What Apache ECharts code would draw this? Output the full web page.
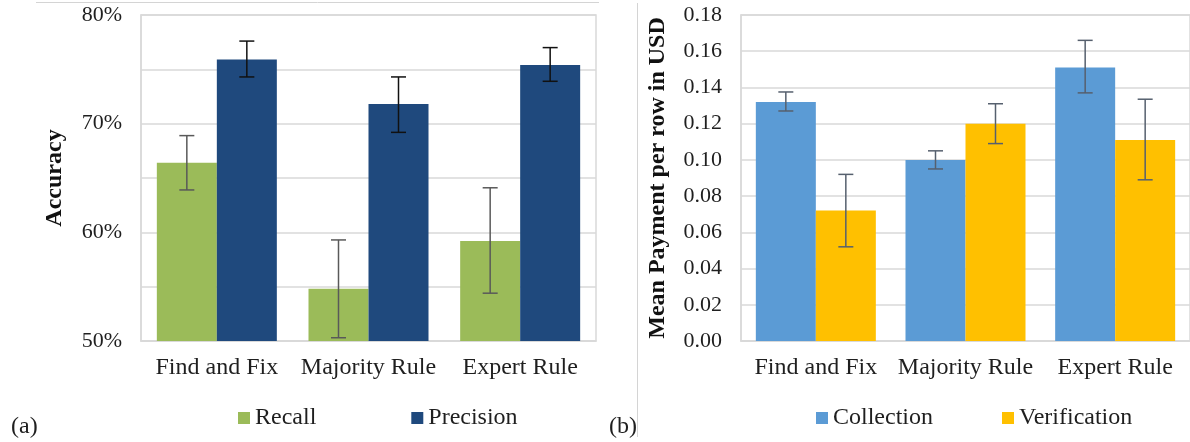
<!DOCTYPE html>
<html>
<head>
<meta charset="utf-8">
<script src="https://cdn.jsdelivr.net/npm/echarts@6/dist/echarts.min.js"></script>
<style>
html,body{margin:0;padding:0;background:#fff;}
#chart{width:1190px;height:442px;}
</style>
</head>
<body>
<div id="chart"></div>
<script>
// ---- data ----
const categories = ['Find and Fix', 'Majority Rule', 'Expert Rule'];

// (a) Accuracy, in percent
const recall        = [66.4, 54.8, 59.2];
const recallLow     = [63.9, 50.3, 54.4];
const recallHigh    = [68.9, 59.3, 64.1];
const precision     = [75.9, 71.8, 75.4];
const precisionLow  = [74.3, 69.2, 73.9];
const precisionHigh = [77.6, 74.3, 77.0];

// (b) Mean payment per row in USD
const collection        = [0.132, 0.100, 0.151];
const collectionLow     = [0.127, 0.095, 0.137];
const collectionHigh    = [0.1375, 0.105, 0.166];
const verification      = [0.072, 0.120, 0.111];
const verificationLow   = [0.052, 0.109, 0.089];
const verificationHigh  = [0.092, 0.131, 0.1335];

const accuracyTicks = {min: 50, max: 80, step: 5};
const paymentTicks  = {min: 0, max: 0.18, step: 0.02};

// ---- styles ----
const FONT = '"Liberation Serif", "Times New Roman", serif';
const TXT = '#1f1f1f';
const GRID = '#D9D9D9';
const BAR_W = 60;

function errData(lo, hi) {
  return categories.map((c, i) => [i, lo[i], hi[i]]);
}
function errSeries(name, lo, hi, side, color, gi) {
  return {
    type: 'custom', name: name, xAxisIndex: gi, yAxisIndex: gi, z: 10,
    silent: true,
    encode: {x: 0, y: [1, 2]},
    data: errData(lo, hi),
    renderItem: function (params, api) {
      const i = api.value(0);
      const p1 = api.coord([i, api.value(1)]);
      const p2 = api.coord([i, api.value(2)]);
      const x = p1[0] + side * BAR_W / 2;
      const cap = 7.5;
      const style = {stroke: color, lineWidth: 1.5, fill: null};
      return {
        type: 'group',
        children: [
          {type: 'line', shape: {x1: x, y1: p1[1], x2: x, y2: p2[1]}, style: style},
          {type: 'line', shape: {x1: x - cap, y1: p1[1], x2: x + cap, y2: p1[1]}, style: style},
          {type: 'line', shape: {x1: x - cap, y1: p2[1], x2: x + cap, y2: p2[1]}, style: style}
        ]
      };
    }
  };
}

const catAxis = (gi) => ({
  type: 'category', gridIndex: gi, data: categories,
  axisLine: {show: true, lineStyle: {color: GRID, width: 1.5}},
  axisTick: {show: false},
  axisLabel: {fontFamily: FONT, fontSize: 24, color: TXT, margin: 15, interval: 0, hideOverlap: false}
});

const chart = echarts.init(document.getElementById('chart'), null, {renderer: 'canvas'});
chart.setOption({
  animation: false,
  backgroundColor: '#fff',
  textStyle: {fontFamily: FONT},
  grid: [
    {left: 141, top: 15, width: 455, height: 326, show: true, borderColor: GRID, borderWidth: 1.5, backgroundColor: 'transparent'},
    {left: 741, top: 15, width: 454, height: 326, show: true, borderColor: GRID, borderWidth: 1.5, backgroundColor: 'transparent'}
  ],
  title: [
    {text: '(a)', left: 6, top: 410, textStyle: {fontFamily: FONT, fontSize: 24, fontWeight: 'normal', color: TXT}},
    {text: '(b)', left: 604, top: 410, textStyle: {fontFamily: FONT, fontSize: 24, fontWeight: 'normal', color: TXT}}
  ],
  legend: [
    {data: ['Recall', 'Precision'], left: 233, top: 401, itemWidth: 12, itemHeight: 12, itemGap: 95, icon: 'rect',
     textStyle: {fontFamily: FONT, fontSize: 24, color: TXT}},
    {data: ['Collection', 'Verification'], left: 811, top: 401, itemWidth: 12, itemHeight: 12, itemGap: 69, icon: 'rect',
     textStyle: {fontFamily: FONT, fontSize: 24, color: TXT}}
  ],
  xAxis: [catAxis(0), catAxis(1)],
  yAxis: [
    {type: 'value', gridIndex: 0, min: accuracyTicks.min, max: accuracyTicks.max, interval: accuracyTicks.step,
     name: 'Accuracy', nameLocation: 'middle', nameRotate: 90, nameGap: 74,
     nameTextStyle: {fontFamily: FONT, fontSize: 24, fontWeight: 'bold', color: '#111'},
     axisLine: {show: true, lineStyle: {color: GRID, width: 1.5}}, axisTick: {show: false},
     splitLine: {lineStyle: {color: GRID, width: 1.5}},
     axisLabel: {fontFamily: FONT, fontSize: 22, color: TXT, margin: 19,
       formatter: v => (Math.round(v) % 10 === 0 ? Math.round(v) + '%' : '')}},
    {type: 'value', gridIndex: 1, min: paymentTicks.min, max: paymentTicks.max, interval: paymentTicks.step,
     name: 'Mean Payment per row in USD', nameLocation: 'middle', nameRotate: 90, nameGap: 71,
     nameTextStyle: {fontFamily: FONT, fontSize: 24, fontWeight: 'bold', color: '#111'},
     axisLine: {show: true, lineStyle: {color: GRID, width: 1.5}}, axisTick: {show: false},
     splitLine: {lineStyle: {color: GRID, width: 1.5}},
     axisLabel: {fontFamily: FONT, fontSize: 22, color: TXT, margin: 19, formatter: v => v.toFixed(2)}}
  ],
  graphic: [
    {type: 'line', shape: {x1: 36, y1: 2.5, x2: 599, y2: 2.5}, style: {stroke: '#D4D4D4', lineWidth: 1}},
    {type: 'line', shape: {x1: 637.5, y1: 3, x2: 637.5, y2: 437}, style: {stroke: '#D4D4D4', lineWidth: 1}}
  ],
  series: [
    {type: 'bar', name: 'Recall', xAxisIndex: 0, yAxisIndex: 0, data: recall, barWidth: BAR_W, barGap: '0%',
     itemStyle: {color: '#9BBB59'}},
    {type: 'bar', name: 'Precision', xAxisIndex: 0, yAxisIndex: 0, data: precision, barWidth: BAR_W, barGap: '0%',
     itemStyle: {color: '#1F497D'}},
    {type: 'bar', name: 'Collection', xAxisIndex: 1, yAxisIndex: 1, data: collection, barWidth: BAR_W, barGap: '0%',
     itemStyle: {color: '#5B9BD5'}},
    {type: 'bar', name: 'Verification', xAxisIndex: 1, yAxisIndex: 1, data: verification, barWidth: BAR_W, barGap: '0%',
     itemStyle: {color: '#FFC000'}},
    errSeries('RecallErr', recallLow, recallHigh, -1, '#595959', 0),
    errSeries('PrecisionErr', precisionLow, precisionHigh, 1, '#111111', 0),
    errSeries('CollectionErr', collectionLow, collectionHigh, -1, '#56606E', 1),
    errSeries('VerificationErr', verificationLow, verificationHigh, 1, '#56606E', 1)
  ]
});
</script>
</body>
</html>
